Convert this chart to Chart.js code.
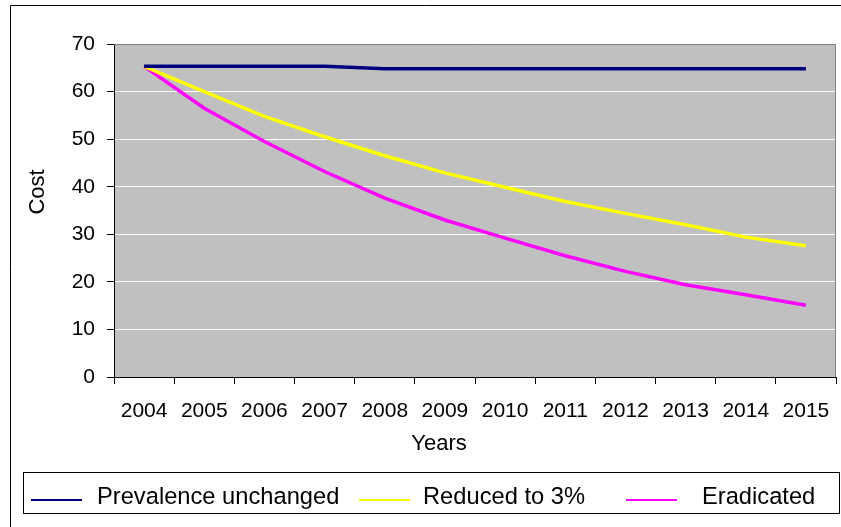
<!DOCTYPE html>
<html><head><meta charset="utf-8">
<script src="https://cdn.jsdelivr.net/npm/chart.js@4.4.1/dist/chart.umd.min.js"></script>
<style>html,body{margin:0;padding:0;background:#fff;overflow:hidden}#wrap{width:841px;height:527px;position:relative}</style>
</head><body><div id="wrap"><canvas id="c" width="841" height="527"></canvas></div>
<script>
const years = ['2004','2005','2006','2007','2008','2009','2010','2011','2012','2013','2014','2015'];
const prevalenceUnchanged = [65.3,65.3,65.3,65.3,64.8,64.8,64.8,64.8,64.8,64.8,64.8,64.8];
const reducedTo3 = [65.3,60.0,54.8,50.5,46.5,42.9,39.9,36.9,34.4,32.0,29.4,27.6];
const eradicated = [65.3,56.5,49.5,43.2,37.6,33.0,29.2,25.5,22.2,19.4,17.3,15.1];
const seriesLabels = ['Prevalence unchanged','Reduced to 3%','Eradicated'];
const seriesColors = ['#000080','#FFFF00','#FF00FF'];
const yMin = 0, yMax = 70, yStep = 10;
const xTitle = 'Years', yTitle = 'Cost';

const FONT = '"Liberation Sans", Arial, sans-serif';

const decor = {
  id: 'decor',
  beforeDraw(chart) {
    const {ctx, chartArea: a} = chart;
    ctx.save();
    ctx.fillStyle = '#fff';
    ctx.fillRect(0, 0, chart.width, chart.height);
    ctx.fillStyle = '#C0C0C0';
    ctx.fillRect(a.left, a.top, a.right - a.left, a.bottom - a.top);
    ctx.strokeStyle = '#000';
    ctx.lineWidth = 1;
    ctx.beginPath();
    ctx.moveTo(10.5, chart.height);
    ctx.lineTo(10.5, 5.5);
    ctx.lineTo(chart.width, 5.5);
    ctx.stroke();
    ctx.restore();
  },
  beforeDatasetsDraw(chart) {
    const {ctx, chartArea: a} = chart;
    ctx.save();
    ctx.strokeStyle = '#808080';
    ctx.lineWidth = 1;
    ctx.beginPath();
    ctx.moveTo(a.left, a.top + 0.5);
    ctx.lineTo(a.right - 0.5, a.top + 0.5);
    ctx.lineTo(a.right - 0.5, a.bottom);
    ctx.stroke();
    ctx.restore();
  },
  afterDraw(chart) {
    const {ctx} = chart;
    ctx.save();
    ctx.fillStyle = '#000';
    ctx.font = '22px ' + FONT;
    ctx.textAlign = 'center';
    ctx.textBaseline = 'middle';
    ctx.fillText(xTitle, 439, 444);
    ctx.translate(38, 192);
    ctx.rotate(-Math.PI / 2);
    ctx.fillText(yTitle, 0, 0);
    ctx.restore();
    ctx.save();
    ctx.strokeStyle = '#000';
    ctx.lineWidth = 1;
    ctx.strokeRect(23.5, 472.5, 816, 41);
    const entries = [
      {lx: 31, tx: 97},
      {lx: 359, tx: 423},
      {lx: 626, tx: 702}
    ];
    ctx.font = '23.7px ' + FONT;
    ctx.textBaseline = 'middle';
    ctx.textAlign = 'left';
    chart.data.datasets.forEach((ds, i) => {
      const e = entries[i];
      ctx.strokeStyle = ds.borderColor;
      ctx.lineWidth = 2;
      ctx.beginPath();
      ctx.moveTo(e.lx, 500);
      ctx.lineTo(e.lx + 51, 500);
      ctx.stroke();
      ctx.fillStyle = '#000';
      ctx.fillText(ds.label, e.tx, 497);
    });
    ctx.restore();
  }
};

const mk = (label, data, color) => ({
  label, data, borderColor: color, backgroundColor: color,
  borderWidth: 3.5, pointRadius: 0, tension: 0, fill: false
});

new Chart(document.getElementById('c'), {
  type: 'line',
  data: {
    labels: years,
    datasets: [
      mk(seriesLabels[0], prevalenceUnchanged, seriesColors[0]),
      mk(seriesLabels[1], reducedTo3, seriesColors[1]),
      mk(seriesLabels[2], eradicated, seriesColors[2])
    ]
  },
  options: {
    responsive: false,
    animation: false,
    devicePixelRatio: 1,
    layout: {padding: {top: 44, right: 5, left: 0, bottom: 0}},
    plugins: {legend: {display: false}, tooltip: {enabled: false}},
    scales: {
      x: {
        type: 'category',
        offset: true,
        grid: {display: true, drawOnChartArea: false, offset: true, tickLength: 7, tickColor: '#000', color: '#000'},
        border: {color: '#000', width: 1},
        ticks: {color: '#000', font: {family: FONT, size: 21}, padding: 15, maxRotation: 0, autoSkip: false},
        afterFit(s) { s.height = 150; s.paddingLeft = 0; s.paddingRight = 0; }
      },
      y: {
        min: yMin, max: yMax,
        grid: {
          color: (c) => (c.tick && (c.tick.value === yMin || c.tick.value === yMax)) ? 'rgba(0,0,0,0)' : '#FFFFFF',
          tickColor: '#000', tickLength: 7, lineWidth: 1
        },
        border: {color: '#000', width: 1},
        ticks: {stepSize: yStep, color: '#000', font: {family: FONT, size: 21}, padding: 12},
        afterFit(s) { s.width = 114; s.paddingTop = 0; s.paddingBottom = 0; }
      }
    }
  },
  plugins: [decor]
});
</script></body></html>
